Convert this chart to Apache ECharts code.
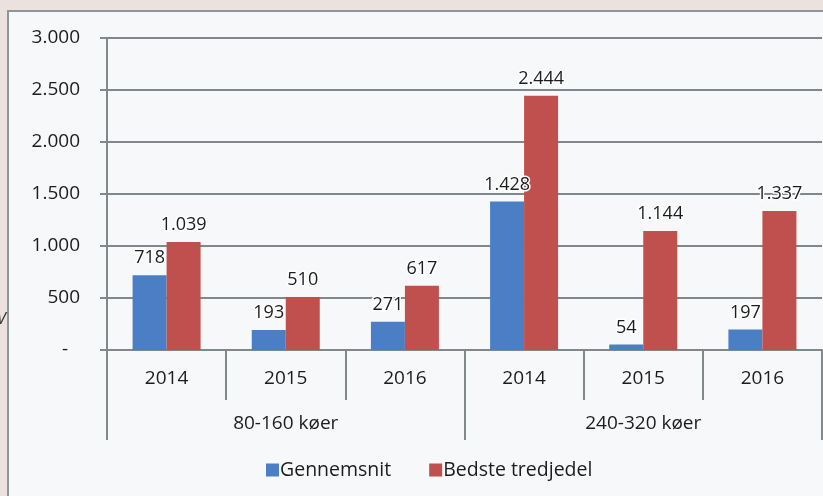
<!DOCTYPE html>
<html>
<head>
<meta charset="utf-8">
<script src="https://cdn.jsdelivr.net/npm/echarts@6/dist/echarts.min.js"></script>
<style>
html, body { margin: 0; padding: 0; background: #ebe1dd; }
#chart { width: 823px; height: 496px; }
</style>
</head>
<body>
<div id="chart"></div>
<script>
// data
var years = ['2014', '2015', '2016', '2014', '2015', '2016'];
var groups = ['80-160 køer', '240-320 køer'];
var gennemsnit = [718, 193, 271, 1428, 54, 197];
var bedste = [1039, 510, 617, 2444, 1144, 1337];

// danish thousands separator
function fmt(v) {
    return String(v).replace(/\B(?=(\d{3})+(?!\d))/g, '.');
}

var chart = echarts.init(document.getElementById('chart'));
var font = '"Open Sans", "Noto Sans", sans-serif';
var grey = '#80888b';
var ink = '#1c1c1c';

var label = {
    show: true,
    position: 'top',
    distance: 8,
    fontFamily: font,
    fontSize: 18,
    color: ink,
    textBorderColor: '#ffffff',
    textBorderWidth: 3,
    formatter: function (p) { return fmt(p.value); }
};

var option = {
    backgroundColor: '#ebe1dd',
    animation: false,
    // panel behind the chart
    graphic: [
        {
            type: 'rect', z: -10,
            shape: { x: 8, y: 11, width: 830, height: 500 },
            style: { fill: '#f6f8fa', stroke: '#8d979b', lineWidth: 2 }
        },
        {
            type: 'text', left: -3, top: 311, z: -5,
            style: { text: 'V', fontSize: 16, fontStyle: 'italic', fill: '#333', fontFamily: font }
        }
    ],
    color: ['#4a7fc6', '#c0504d'],
    grid: { left: 107, right: 1, top: 38, bottom: 146 },
    legend: {
        left: 261,
        top: 455,
        itemWidth: 13,
        itemHeight: 13,
        itemGap: 38,
        icon: 'rect',
        textStyle: { fontFamily: font, fontSize: 19.5, color: ink, padding: [0, 0, 0, -4] },
        data: ['Gennemsnit', 'Bedste tredjedel']
    },
    xAxis: [
        {
            type: 'category',
            data: years,
            position: 'bottom',
            axisLine: { show: true, lineStyle: { color: grey, width: 2 } },
            axisTick: { show: true, interval: 0, length: 50, lineStyle: { color: grey, width: 2 } },
            axisLabel: { interval: 0, margin: 19, fontFamily: font, fontSize: 19, color: ink }
        },
        {
            type: 'category',
            data: groups,
            position: 'bottom',
            axisLine: { show: false },
            axisTick: { show: true, interval: 0, length: 90, lineStyle: { color: grey, width: 2 } },
            axisLabel: { interval: 0, margin: 64, fontFamily: font, fontSize: 19, color: ink }
        }
    ],
    yAxis: {
        type: 'value',
        min: 0,
        max: 3000,
        interval: 500,
        axisLine: { show: true, lineStyle: { color: grey, width: 2 } },
        axisTick: { show: true, length: 7, lineStyle: { color: grey, width: 2 } },
        splitLine: { show: true, lineStyle: { color: grey, width: 2 } },
        axisLabel: {
            margin: 27,
            fontFamily: font,
            fontSize: 19,
            color: ink,
            formatter: function (v) {
                // zero is shown as a dash, a bit left of the numbers
                return v === 0 ? '{d|-}' : fmt(v);
            },
            rich: {
                d: { fontFamily: font, fontSize: 19, color: ink, padding: [0, 12, 0, 0] }
            }
        }
    },
    series: [
        {
            name: 'Gennemsnit',
            type: 'bar',
            xAxisIndex: 0,
            data: gennemsnit,
            barWidth: 34,
            barGap: '0%',
            label: label
        },
        {
            name: 'Bedste tredjedel',
            type: 'bar',
            xAxisIndex: 0,
            data: bedste,
            barWidth: 34,
            barGap: '0%',
            label: label
        }
    ]
};

chart.setOption(option);
</script>
</body>
</html>
